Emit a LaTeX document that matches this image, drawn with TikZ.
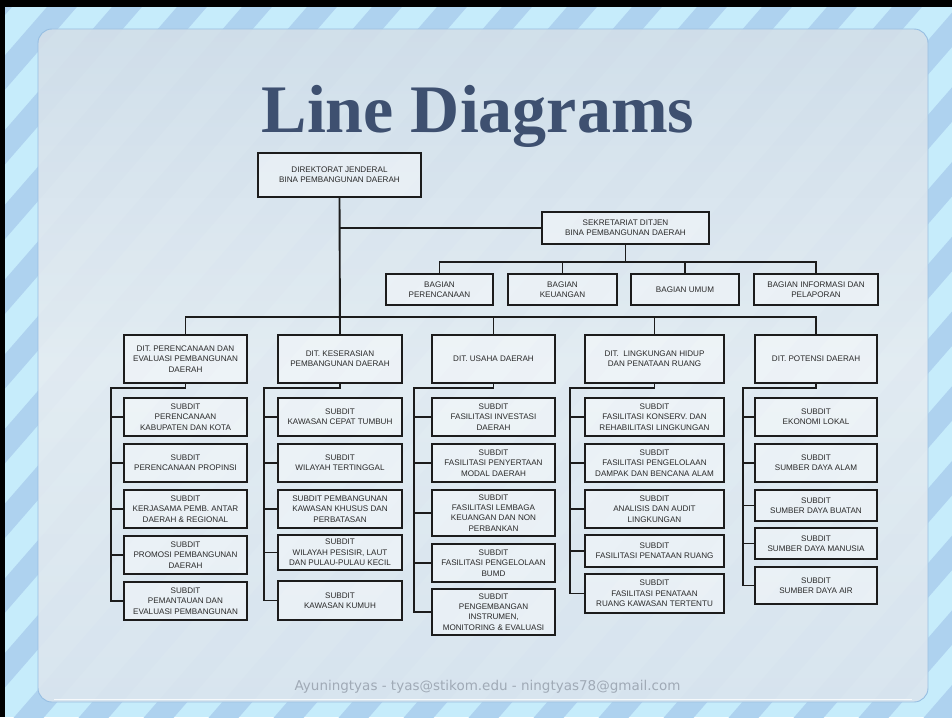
\documentclass[tikz,border=0pt]{standalone}
\usepackage{fontspec}
\setmainfont{Liberation Serif}
\newfontfamily\boxfont{Liberation Sans}
\newfontfamily\footfont{DejaVu Sans}
\definecolor{bgblue}{RGB}{198,236,251}
\definecolor{stripeblue}{RGB}{174,210,239}
\definecolor{titleblue}{RGB}{62,80,112}
\definecolor{paneltop}{RGB}{210,223,233}
\definecolor{panelmid}{RGB}{229,236,242}
\definecolor{panelbot}{RGB}{218,229,238}
\definecolor{paneledge}{RGB}{150,190,226}
\definecolor{footgrey}{RGB}{160,170,182}
\definecolor{linedark}{RGB}{28,28,28}
\definecolor{boxtext}{RGB}{40,40,40}
\newcommand\bx[6]{%
  \pgfmathsetmacro\cx{(#2+#4)/2}%
  \pgfmathsetmacro\cy{(#3+#5)/2}%
  \pgfmathsetmacro\bw{#4-#2}%
  \pgfmathsetmacro\bh{#5-#3}%
  \node[orgbox,minimum width=\bw pt,minimum height=\bh pt] (#1) at (\cx,\cy) {#6};}
\begin{document}
\begin{tikzpicture}[x=1pt,y=-1pt,
  stripe/.style={fill=stripeblue},
  orgbox/.style={draw=linedark,line width=1.6pt,fill=white,fill opacity=0.4,text opacity=1,
    inner sep=0pt,outer sep=0pt,align=center,text=boxtext,
    font=\boxfont\fontsize{8.1}{10.3}\selectfont},
  conn/.style={draw=linedark,line width=1.9pt}]
\useasboundingbox (0,0) rectangle (952,717);
\begin{scope}
\clip (0,0) rectangle (952,717);
\fill[bgblue] (0,0) rectangle (952,717);
\foreach \k in {-1,...,26}{%
  \pgfmathsetmacro\c{53+65*(\k-1)}%
  \fill[stripe] (\c+4.35,-5) -- (\c+34.35,-5) -- (\c+30-628.1,722) -- (\c-628.1,722) -- cycle;}
\fill[black] (0,0) rectangle (952,7);
\fill[black] (0,0) rectangle (5,717);
\end{scope}
% panel
\shade[top color=paneltop,bottom color=panelbot,middle color=panelmid,fill opacity=0.92,
  rounded corners=14pt] (38,29) rectangle (928,702);
\draw[paneledge,line width=0.9pt,rounded corners=14pt] (38,29) rectangle (928,702);
\draw[white,line width=1.2pt,opacity=0.8] (54,699.5) -- (912,699.5);
% title
\node[anchor=base,text=titleblue,font=\bfseries\fontsize{68}{70}\selectfont,inner sep=0pt] (title) at (478,132) {Line Diagrams};
% top boxes
\bx{dj}{258}{153}{421}{197}{DIREKTORAT JENDERAL\\BINA PEMBANGUNAN DAERAH}
\bx{sek}{542}{212}{709}{244}{SEKRETARIAT DITJEN\\BINA PEMBANGUNAN DAERAH}
\bx{bag1}{386}{274}{493}{305}{BAGIAN\\PERENCANAAN}
\bx{bag2}{508}{274}{617}{305}{BAGIAN\\KEUANGAN}
\bx{bag3}{631}{274}{739}{305}{BAGIAN UMUM}
\bx{bag4}{754}{274}{878}{305}{BAGIAN INFORMASI DAN\\PELAPORAN}
% directorates
\bx{dir1}{124}{335}{247}{383}{DIT. PERENCANAAN DAN\\EVALUASI PEMBANGUNAN\\DAERAH}
\bx{dir2}{278}{335}{402}{383}{DIT. KESERASIAN\\PEMBANGUNAN DAERAH}
\bx{dir3}{432}{335}{555}{383}{DIT. USAHA DAERAH}
\bx{dir4}{585}{335}{724}{383}{DIT.\ \ LINGKUNGAN HIDUP\\DAN PENATAAN RUANG}
\bx{dir5}{755}{335}{877}{383}{DIT. POTENSI DAERAH}
% column 1
\bx{a1}{124}{398}{247}{436}{SUBDIT\\PERENCANAAN\\KABUPATEN DAN KOTA}
\bx{a2}{124}{444}{247}{482}{SUBDIT\\PERENCANAAN PROPINSI}
\bx{a3}{124}{490}{247}{528}{SUBDIT\\KERJASAMA PEMB. ANTAR\\DAERAH \& REGIONAL}
\bx{a4}{124}{536}{247}{574}{SUBDIT\\PROMOSI PEMBANGUNAN\\DAERAH}
\bx{a5}{124}{582}{247}{620}{SUBDIT\\PEMANTAUAN DAN\\EVALUASI PEMBANGUNAN}
% column 2
\bx{b1}{278}{398}{402}{436}{SUBDIT\\KAWASAN CEPAT TUMBUH}
\bx{b2}{278}{444}{402}{482}{SUBDIT\\WILAYAH TERTINGGAL}
\bx{b3}{278}{490}{402}{528}{SUBDIT PEMBANGUNAN\\KAWASAN KHUSUS DAN\\PERBATASAN}
\bx{b4}{278}{535}{402}{570}{SUBDIT\\WILAYAH PESISIR, LAUT\\DAN PULAU-PULAU KECIL}
\bx{b5}{278}{581}{402}{620}{SUBDIT\\KAWASAN KUMUH}
% column 3
\bx{c1}{432}{398}{555}{436}{SUBDIT\\FASILITASI INVESTASI\\DAERAH}
\bx{c2}{432}{444}{555}{482}{SUBDIT\\FASILITASI PENYERTAAN\\MODAL DAERAH}
\bx{c3}{432}{490}{555}{536}{SUBDIT\\FASILITASI LEMBAGA\\KEUANGAN DAN NON\\PERBANKAN}
\bx{c4}{432}{544}{555}{582}{SUBDIT\\FASILITASI PENGELOLAAN\\BUMD}
\bx{c5}{432}{589}{555}{635}{SUBDIT\\PENGEMBANGAN\\INSTRUMEN,\\MONITORING \& EVALUASI}
% column 4
\bx{d1}{585}{398}{724}{436}{SUBDIT\\FASILITASI KONSERV. DAN\\REHABILITASI LINGKUNGAN}
\bx{d2}{585}{444}{724}{482}{SUBDIT\\FASILITASI PENGELOLAAN\\DAMPAK DAN BENCANA ALAM}
\bx{d3}{585}{490}{724}{528}{SUBDIT\\ANALISIS DAN AUDIT\\LINGKUNGAN}
\bx{d4}{585}{535}{724}{567}{SUBDIT\\FASILITASI PENATAAN RUANG}
\bx{d5}{585}{574}{724}{613}{SUBDIT\\FASILITASI PENATAAN\\RUANG KAWASAN TERTENTU}
% column 5
\bx{e1}{755}{398}{877}{436}{SUBDIT\\EKONOMI LOKAL}
\bx{e2}{755}{444}{877}{482}{SUBDIT\\SUMBER DAYA ALAM}
\bx{e3}{755}{490}{877}{521}{SUBDIT\\SUMBER DAYA BUATAN}
\bx{e4}{755}{528}{877}{559}{SUBDIT\\SUMBER DAYA MANUSIA}
\bx{e5}{755}{567}{877}{604}{SUBDIT\\SUMBER DAYA AIR}
% bus coordinates
\coordinate (bbus) at (0,262);
\coordinate (dbus) at (0,317);
\coordinate (spa) at (111,388);
\coordinate (spb) at (264,388);
\coordinate (spc) at (414,388);
\coordinate (spd) at (570,388);
\coordinate (spe) at (743,388);
% connectors
\draw[conn] (dj.south) -- (dir2.north);
\draw[conn] (dj.south |- sek.west) -- (sek.west);
\draw[conn] (sek.south) -- (sek.south |- bbus);
\draw[conn] (bag1.north) |- (bag4.north |- bbus) -- (bag4.north);
\draw[conn] (bag2.north) -- (bag2.north |- bbus);
\draw[conn] (bag3.north) -- (bag3.north |- bbus);
\draw[conn] (dir1.north) |- (dir5.north |- dbus) -- (dir5.north);
\draw[conn] (dir3.north) -- (dir3.north |- dbus);
\draw[conn] (dir4.north) -- (dir4.north |- dbus);
\foreach \col/\dir in {a/dir1,b/dir2,c/dir3,d/dir4,e/dir5}{%
  \draw[conn] (\dir.south) |- (sp\col) |- (\col5.west);
  \foreach \i in {1,...,4}{\draw[conn] (sp\col |- \col\i.west) -- (\col\i.west);}
}
% footer
\node[anchor=base,text=footgrey,font=\footfont\fontsize{13.5}{16}\selectfont,inner sep=0pt] (foot) at (487.5,690) {Ayuningtyas - tyas@stikom.edu - ningtyas78@gmail.com};
\end{tikzpicture}
\end{document}
